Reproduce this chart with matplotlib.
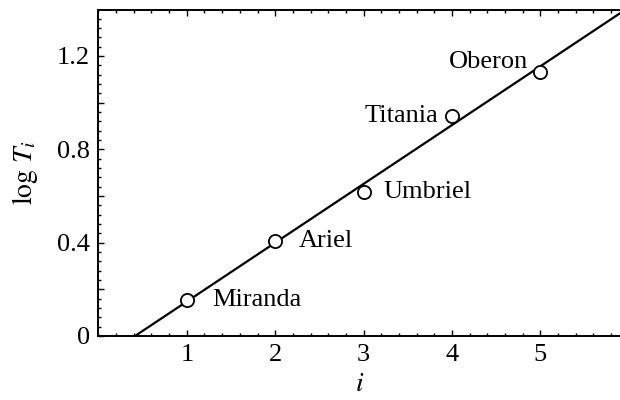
import matplotlib
matplotlib.use("Agg")
import matplotlib.pyplot as plt
import numpy as np
from matplotlib.ticker import MultipleLocator, FixedLocator, FuncFormatter

plt.rcParams["font.family"] = ["Liberation Serif", "DejaVu Serif"]
plt.rcParams["mathtext.fontset"] = "stix"

# Uranian moons: index and log of orbital period
moons = ["Miranda", "Ariel", "Umbriel", "Titania", "Oberon"]
idx = [1, 2, 3, 4, 5]
log_t = [0.154, 0.407, 0.618, 0.944, 1.133]

# straight-line fit log T = a*i + b
fit_a = 0.2521
fit_b = -0.1044

# label offsets (points) for each moon
offsets = [(18, 0), (17, 0), (14, 0), (-10, 0), (-9, 7)]
aligns = ["left", "left", "left", "right", "right"]

fig = plt.figure(figsize=(6.2, 4.0), dpi=100)
ax = fig.add_axes([0.1587, 0.16, 0.8413, 0.815])

xs = np.linspace(0, 6, 200)
ax.plot(xs, fit_a * xs + fit_b, color="black", lw=1.6, zorder=2)
ax.plot(idx, log_t, "o", ms=9.5, mfc="white", mec="black", mew=1.3, zorder=3)

for name, x, y, off, ha in zip(moons, idx, log_t, offsets, aligns):
    ax.annotate(name, (x, y), xytext=off, textcoords="offset points",
                ha=ha, va="center", fontsize=19)

ax.set_xlim(0, 5.9)
ax.set_ylim(0, 1.397)

ax.xaxis.set_major_locator(FixedLocator([1, 2, 3, 4, 5]))
ax.xaxis.set_minor_locator(MultipleLocator(0.2))
ax.yaxis.set_major_locator(MultipleLocator(0.2))
ax.yaxis.set_minor_locator(MultipleLocator(0.04))


def ylab(v, pos):
    if abs(v) < 1e-9:
        return "0"
    if abs(round(v / 0.4) * 0.4 - v) < 1e-6:
        return f"{v:.1f}"
    return ""


ax.yaxis.set_major_formatter(FuncFormatter(ylab))

ax.tick_params(which="both", direction="in", top=True, right=False,
               labelsize=19, width=1.0, pad=6, colors="black")
ax.tick_params(which="major", length=4)
ax.tick_params(which="minor", length=2.2)

for s in ["left", "bottom", "top"]:
    ax.spines[s].set_linewidth(1.4)
ax.spines["right"].set_visible(False)

ax.set_xlabel("$i$", fontsize=20, labelpad=4)
ax.set_ylabel(r"$\log\,T_i$", fontsize=20, labelpad=12)

fig.savefig("out.png", dpi=100)
